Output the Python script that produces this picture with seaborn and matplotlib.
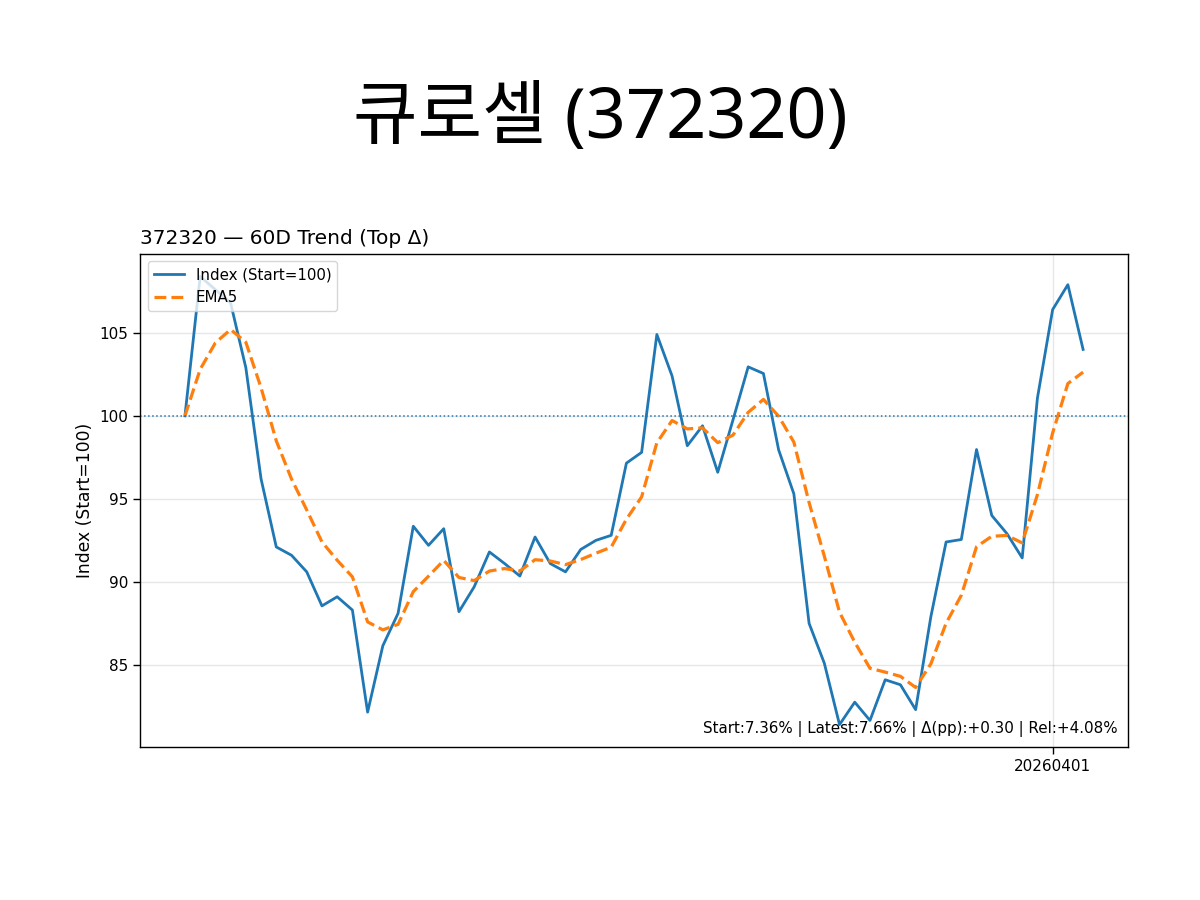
import numpy as np
import pandas as pd
import matplotlib
matplotlib.use("Agg")
import matplotlib.pyplot as plt
import seaborn as sns

# ---- data ----
index_values = [
    100.0, 108.4, 107.6, 106.8, 102.9, 96.2, 92.1, 91.6, 90.6, 88.55,
    89.1, 88.3, 82.15, 86.15, 88.1, 93.35, 92.2, 93.2, 88.2, 89.7,
    91.8, 91.1, 90.35, 92.7, 91.1, 90.6, 91.95, 92.5, 92.8, 97.15,
    97.8, 104.9, 102.4, 98.2, 99.4, 96.6, 99.75, 102.95, 102.55, 97.95,
    95.3, 87.5, 85.1, 81.4, 82.75, 81.65, 84.1, 83.8, 82.3, 87.9,
    92.4, 92.55, 97.97, 94.0, 92.9, 91.44, 101.07, 106.4, 107.9, 104.0,
]
dates = list(pd.bdate_range(end="2026-04-03", periods=len(index_values)).strftime("%Y%m%d"))
tick_labels = ["20260401"]
baseline = 100
suptitle_text = "큐로셀 (372320)"
title_text = "372320 — 60D Trend (Top Δ)"
ylabel_text = "Index (Start=100)"
series_labels = ["Index (Start=100)", "EMA5"]
note_text = "Start:7.36% | Latest:7.66% | Δ(pp):+0.30 | Rel:+4.08%"

df = pd.DataFrame({"date": dates, "index": index_values})
df["pos"] = np.arange(len(df))
df["ema5"] = df["index"].ewm(span=5, adjust=False).mean()

fig = plt.figure(figsize=(12, 9), dpi=100)
ax = fig.add_axes([0.1167, 0.17, 0.8233, 0.5478])

sns.lineplot(data=df, x="pos", y="index", ax=ax, color="#1f77b4",
             linewidth=2.0, label=series_labels[0])
sns.lineplot(data=df, x="pos", y="ema5", ax=ax, color="#ff7f0e",
             linewidth=2.3, linestyle="--", label=series_labels[1])
ax.axhline(baseline, color="#1f77b4", linestyle=":", linewidth=1.1)

ax.grid(True, color="#b0b0b0", alpha=0.3, linewidth=1.0)
ax.set_axisbelow(True)

tick_pos = [dates.index(t) for t in tick_labels]
ax.set_xticks(tick_pos)
ax.set_xticklabels(tick_labels)
ax.set_yticks([85, 90, 95, 100, 105])
ax.tick_params(axis="both", labelsize=11, length=5, width=1.0)
ax.set_xlabel("")
ax.set_ylabel(ylabel_text, fontsize=12.3)
ax.set_title(title_text, loc="left", fontsize=14.5, pad=7)

for s in ax.spines.values():
    s.set_linewidth(1.0)
    s.set_color("black")

ax.legend(loc="upper left", fontsize=10.8, frameon=True, framealpha=0.8)

ax.text(0.99, 0.02, note_text, transform=ax.transAxes, ha="right", va="bottom",
        fontsize=10.9)

fig.text(0.5, 0.867, suptitle_text, ha="center", va="center", fontsize=50.5,
         family=["Noto Sans", "Noto Sans CJK KR", "DejaVu Sans"])

fig.savefig("out.png", dpi=100)
